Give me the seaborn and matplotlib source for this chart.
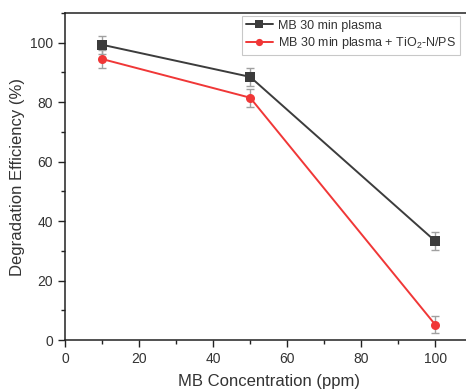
import numpy as np
import pandas as pd
import matplotlib
matplotlib.use('Agg')
import matplotlib.pyplot as plt
import seaborn as sns
from matplotlib.ticker import MultipleLocator

# data
concentration = [10, 50, 100]
plasma_only = [99.3, 88.5, 33.3]
plasma_only_err = [3.0, 3.0, 3.0]
plasma_tio2 = [94.5, 81.5, 5.2]
plasma_tio2_err = [3.0, 3.0, 2.8]
series_names = ['MB 30 min plasma', 'MB 30 min plasma + TiO$_2$-N/PS']

sns.set_style('ticks')
plt.rcParams['font.family'] = ['Liberation Sans', 'DejaVu Sans']
plt.rcParams['mathtext.fontset'] = 'custom'
plt.rcParams['mathtext.rm'] = 'Liberation Sans'

df = pd.DataFrame({
    'conc': concentration * 2,
    'eff': plasma_only + plasma_tio2,
    'err': plasma_only_err + plasma_tio2_err,
    'series': [series_names[0]] * 3 + [series_names[1]] * 3,
})

colors = {series_names[0]: '#3c3c3c', series_names[1]: '#f03737'}
markers = {series_names[0]: 's', series_names[1]: 'o'}

fig = plt.figure(figsize=(4.66, 3.91), dpi=100)
# axes run past the right edge, as in the cropped original
ax = fig.add_axes([0.1395, 0.130, 0.874, 0.837])

# error bars first, behind the lines
for name, sub in df.groupby('series'):
    ax.errorbar(sub['conc'], sub['eff'], yerr=sub['err'], fmt='none',
                ecolor='#a0a0a0', elinewidth=1, capsize=3, capthick=1, zorder=1)

sns.lineplot(data=df, x='conc', y='eff', hue='series', style='series',
             palette=colors, markers=markers, dashes=False, markersize=6.5,
             markeredgewidth=0, linewidth=1.4, ax=ax, zorder=2,
             hue_order=series_names, style_order=series_names)

ax.set_xlim(0, 110)
ax.set_ylim(0, 110)
ax.xaxis.set_major_locator(MultipleLocator(20))
ax.xaxis.set_minor_locator(MultipleLocator(10))
ax.yaxis.set_major_locator(MultipleLocator(20))
ax.yaxis.set_minor_locator(MultipleLocator(10))
ax.tick_params(which='major', direction='out', length=5, width=1, labelsize=10, colors='#222222', labelcolor='#333333')
ax.tick_params(which='minor', direction='out', length=3, width=1, colors='#222222')
for s in ax.spines.values():
    s.set_linewidth(1.1)
    s.set_color('#222222')
ax.spines['right'].set_visible(False)

ax.set_xlabel('MB Concentration (ppm)', fontsize=12, color='#333333', labelpad=6)
ax.set_ylabel('Degradation Efficiency (%)', fontsize=12, color='#333333', labelpad=4)

leg = ax.legend(loc='upper right', bbox_to_anchor=(460 / 466, 375 / 391),
                bbox_transform=fig.transFigure, borderaxespad=0, fontsize=9,
                frameon=True, fancybox=False, edgecolor='#bbbbbb', markerscale=0.8,
                handlelength=2.2, borderpad=0.3, labelspacing=0.25, handletextpad=0.4)
leg.get_frame().set_linewidth(0.8)
for t in leg.get_texts():
    t.set_color('#333333')

fig.savefig('out.png', dpi=100)
plt.close(fig)
